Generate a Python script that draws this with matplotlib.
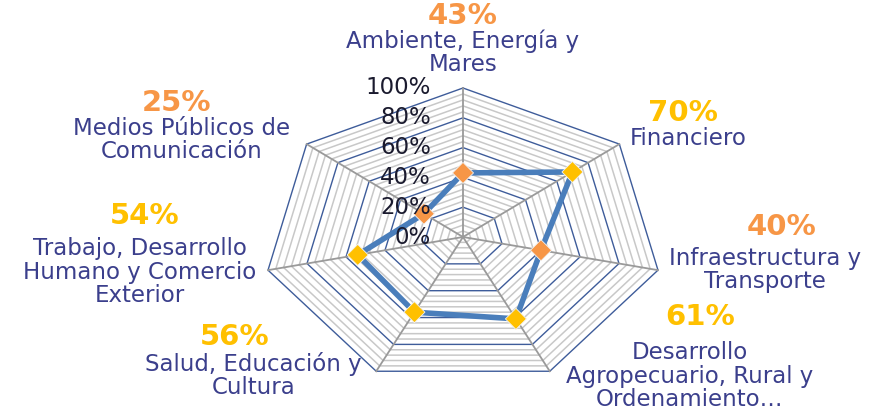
import numpy as np
import matplotlib.pyplot as plt

# Radar data: share per sector
categories = [
    'Ambiente, Energía y\nMares',
    'Financiero',
    'Infraestructura y\nTransporte',
    'Desarrollo\nAgropecuario, Rural y\nOrdenamiento…',
    'Salud, Educación y\nCultura',
    'Trabajo, Desarrollo\nHumano y Comercio\nExterior',
    'Medios Públicos de\nComunicación',
]
values = [43, 70, 40, 61, 56, 54, 25]
tick_values = [0, 20, 40, 60, 80, 100]
tick_labels = ['0%', '20%', '40%', '60%', '80%', '100%']

# label offsets in pixels from each outer vertex (percent, category)
pct_offsets = [(0, 72), (64, 31), (124, 43), (150, 54), (-142, 34), (-123, 54), (-130, 41)]
cat_offsets = [(0, 35), (69, 6), (107, 0), (140, -5), (-123, -4), (-128, -2), (-125, 4)]

orange = '#F79646'
gold = '#FFC000'
text_blue = '#3B3F8C'

n = len(categories)
theta = np.deg2rad(90 - np.arange(n) * 360 / n)
rx, ry = 200 / 149, 1.0  # chart is stretched horizontally


def xy(r):
    r = np.asarray(r, dtype=float)
    return r * rx * np.cos(theta), r * ry * np.sin(theta)


fig = plt.figure(figsize=(8.69, 4.11), dpi=100)
ax = fig.add_axes([0, 0, 1, 1])
ax.set_xlim(-463 / 149, 406 / 149)
ax.set_ylim(-174 / 149, 237 / 149)
ax.axis('off')

# minor grid (concentric heptagons)
for r in np.arange(0.04, 1.0, 0.04):
    if round(r * 100) % 20 == 0:
        continue
    x, y = xy(np.full(n, r))
    ax.plot(np.append(x, x[0]), np.append(y, y[0]), color='#C8C8C8', lw=1.1, zorder=1)

# major grid
for t in tick_values[1:]:
    x, y = xy(np.full(n, t / 100))
    ax.plot(np.append(x, x[0]), np.append(y, y[0]), color='#3E5C9A', lw=1.0, zorder=2)

# spokes
ox, oy = xy(np.ones(n))
for i in range(n):
    ax.plot([0, ox[i]], [0, oy[i]], color='#9A9A9A', lw=1.3, zorder=2)

# data line
vals = np.array(values) / 100
dx, dy = xy(vals)
ax.plot(np.append(dx, dx[0]), np.append(dy, dy[0]), color='#4A7EBB', lw=4, zorder=3)
colors = [gold if v >= 50 else orange for v in values]
ax.scatter(dx, dy, marker='D', s=115, c=colors, edgecolors='#F2F2F2', linewidths=0.6, zorder=4)

# radial tick labels
for t, lab in zip(tick_values, tick_labels):
    ax.annotate(lab, (0, t / 100), xytext=(-32, 0), textcoords='offset pixels',
                ha='right', va='center', fontsize=16.5, color='#1A1A2E', zorder=5)

# category and percent labels
for i in range(n):
    ax.annotate(categories[i], (ox[i], oy[i]), xytext=cat_offsets[i], textcoords='offset pixels',
                ha='center', va='center', fontsize=16.5, color=text_blue, linespacing=1.02)
    ax.annotate(f'{values[i]}%', (ox[i], oy[i]), xytext=pct_offsets[i], textcoords='offset pixels',
                ha='center', va='center', fontsize=21, fontweight='bold', color=colors[i])

fig.savefig('out.png', dpi=100)
